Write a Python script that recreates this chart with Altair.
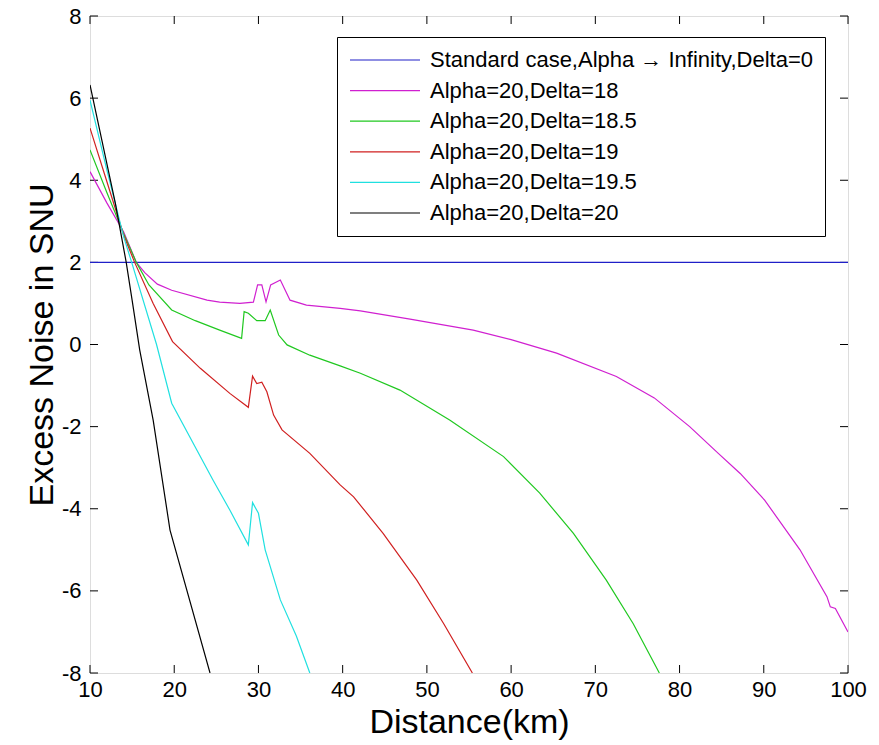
import altair as alt
import pandas as pd

labels = [
    "Standard case,Alpha \u2192 Infinity,Delta=0",
    "Alpha=20,Delta=18",
    "Alpha=20,Delta=18.5",
    "Alpha=20,Delta=19",
    "Alpha=20,Delta=19.5",
    "Alpha=20,Delta=20",
]
colors = ["#2020c8", "#d020d0", "#20c820", "#d02020", "#20e0e0", "#000000"]

x_std = [10, 100]
y_std = [2, 2]

x_d18 = [10, 12, 14, 15.5, 16.5, 18, 19.7, 23.9, 25.4, 27.8, 29.4, 29.9, 30.4, 30.9, 31.45, 32.6,
         33.75, 35.7, 39.7, 42.1, 48, 55.5, 60, 65.4, 72.5, 77, 81.2, 84.6, 87.2, 90.1, 94.3,
         97.5, 97.9, 98.5, 100]
y_d18 = [4.21, 3.45, 2.74, 2.0, 1.75, 1.47, 1.32, 1.08, 1.03, 1.0, 1.03, 1.45, 1.45, 1.04, 1.45, 1.57,
         1.08, 0.96, 0.88, 0.82, 0.62, 0.35, 0.12, -0.21, -0.78, -1.3, -2.0, -2.65, -3.14, -3.79, -5.0,
         -6.14, -6.39, -6.43, -7.0]

x_d185 = [10, 12, 14, 15.5, 17, 19.7, 22.5, 25.4, 28.0, 28.3, 28.8, 29.8, 30.8, 31.4, 32.4, 33.4,
          36.1, 39.7, 42.1, 46.8, 52.7, 59.1, 63.4, 67.4, 71.3, 74.5, 77.6]
y_d185 = [4.74, 3.7, 2.7, 2.0, 1.45, 0.84, 0.58, 0.35, 0.15, 0.80, 0.76, 0.58, 0.58, 0.84, 0.23, -0.01,
          -0.26, -0.52, -0.70, -1.11, -1.84, -2.73, -3.62, -4.60, -5.74, -6.8, -8.0]

x_d19 = [10, 12, 14, 15.3, 17.5, 19.8, 23.1, 26.6, 28.8, 29.3, 29.8, 30.4, 31.0, 31.8, 32.8, 36.1,
         39.7, 41.3, 44.8, 48.8, 52.0, 55.4]
y_d19 = [5.27, 3.97, 2.66, 2.0, 1.0, 0.07, -0.58, -1.19, -1.53, -0.77, -0.95, -0.92, -1.15, -1.72, -2.08, -2.65,
         -3.42, -3.71, -4.6, -5.74, -6.8, -8.0]

x_d195 = [10, 12, 14, 14.95, 17.9, 19.7, 24.6, 26.6, 28.8, 29.3, 30.0, 30.8, 32.6, 34.5, 36.1]
y_d195 = [5.95, 4.25, 2.62, 2.0, 0.0, -1.43, -3.3, -4.03, -4.88, -3.85, -4.11, -5.0, -6.22, -7.1, -8.0]

x_d20 = [10, 13, 14.3, 15.0, 15.9, 17.5, 19.5, 24.25]
y_d20 = [6.32, 3.45, 2.0, 1.08, -0.13, -1.84, -4.52, -8.0]

x_ticks = [10, 20, 30, 40, 50, 60, 70, 80, 90, 100]
y_ticks = [-8, -6, -4, -2, 0, 2, 4, 6, 8]

series_x = [x_std, x_d18, x_d185, x_d19, x_d195, x_d20]
series_y = [y_std, y_d18, y_d185, y_d19, y_d195, y_d20]

rows = []
for k, (lab, xs, ys) in enumerate(zip(labels, series_x, series_y)):
    for i, (xv, yv) in enumerate(zip(xs, ys)):
        rows.append({"series": lab, "x": xv, "y": yv, "order": i, "k": k})
df = pd.DataFrame(rows)

df_xt = pd.DataFrame({"x": x_ticks})
df_yt = pd.DataFrame({"y": y_ticks})

W, H = 758, 657
FONT = "Liberation Sans"
TL = 8

xscale = alt.Scale(domain=[10, 100], nice=False, zero=False)
yscale = alt.Scale(domain=[-8, 8], nice=False, zero=False)

xaxis = alt.Axis(values=x_ticks, title="Distance(km)", ticks=False, domain=False, grid=False,
                 labelFontSize=22, labelPadding=6, titleFontSize=34, titlePadding=5,
                 labelFlush=False, labelOverlap=False,
                 labelColor="black", titleColor="black", titleFontWeight="normal",
                 labelFont=FONT, titleFont=FONT, labelExpr="'' + datum.value")
yaxis = alt.Axis(values=y_ticks, title="Excess Noise in SNU", ticks=False, domain=False, grid=False,
                 labelFontSize=22, labelPadding=9, titleFontSize=34, titlePadding=2,
                 labelFlush=False, labelOverlap=False,
                 labelColor="black", titleColor="black", titleFontWeight="normal",
                 labelFont=FONT, titleFont=FONT, labelExpr="'' + datum.value")

lines = alt.Chart(df).mark_line(strokeWidth=1.2, clip=True).encode(
    x=alt.X("x:Q", scale=xscale, axis=xaxis),
    y=alt.Y("y:Q", scale=yscale, axis=yaxis),
    color=alt.Color(
        "series:N",
        sort=labels,
        scale=alt.Scale(domain=labels, range=colors),
        legend=alt.Legend(
            title=None, orient="none", legendX=247, legendY=21,
            symbolType="stroke", symbolSize=4900, symbolStrokeWidth=1.2,
            clipHeight=22, rowPadding=8.6, labelFontSize=22, labelFont=FONT,
            labelColor="black", labelOffset=9, labelLimit=800, padding=12,
            strokeColor="black", fillColor="white",
        ),
    ),
    order="order:Q",
)

bottom = alt.Chart(df_xt).mark_rule(color="black", strokeWidth=1).encode(
    x=alt.X("x:Q", scale=xscale, axis=xaxis), y=alt.value(H), y2=alt.value(H - TL))
top = alt.Chart(df_xt).mark_rule(color="black", strokeWidth=1).encode(
    x=alt.X("x:Q", scale=xscale, axis=xaxis), y=alt.value(0), y2=alt.value(TL))
left = alt.Chart(df_yt).mark_rule(color="black", strokeWidth=1).encode(
    y=alt.Y("y:Q", scale=yscale, axis=yaxis), x=alt.value(0), x2=alt.value(TL))
right = alt.Chart(df_yt).mark_rule(color="black", strokeWidth=1).encode(
    y=alt.Y("y:Q", scale=yscale, axis=yaxis), x=alt.value(W), x2=alt.value(W - TL))

chart = alt.layer(bottom, top, left, right, lines).properties(
    width=W, height=H,
    autosize=alt.AutoSizeParams(type="none"),
    padding={"left": 90, "top": 16, "right": 31, "bottom": 72},
    background="white",
).configure_view(stroke="black", strokeWidth=1.2).configure(font=FONT)

chart.save("out.html", embed_options={"renderer": "svg", "actions": False})
